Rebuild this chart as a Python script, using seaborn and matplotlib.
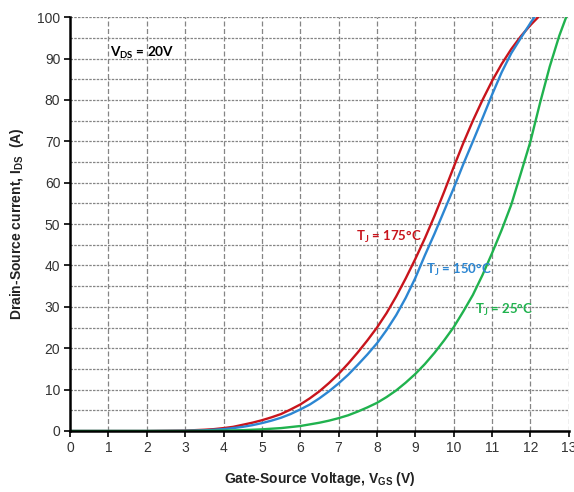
import matplotlib
matplotlib.use("Agg")
import matplotlib.pyplot as plt
from matplotlib.ticker import MultipleLocator
import pandas as pd
import seaborn as sns

# Transfer characteristics, V_DS = 20 V
vgs_175 = [0, 1, 2, 3, 3.5, 3.75, 4.0, 4.25, 4.5, 4.75, 5.0, 5.25, 5.5, 5.75, 6.0,
           6.25, 6.5, 6.75, 7.0, 7.25, 7.5, 7.75, 8.0, 8.25, 8.5, 8.75, 9.0, 9.25,
           9.5, 9.75, 10.0, 10.25, 10.5, 10.75, 11.0, 11.25, 11.5, 11.75, 12.0, 12.2]
ids_175 = [0, 0, 0, 0.1, 0.3, 0.45, 0.7, 1.0, 1.5, 2.0, 2.6, 3.3, 4.1, 5.2, 6.4,
           7.9, 9.6, 11.6, 13.8, 16.3, 19.0, 21.9, 25.0, 28.5, 32.5, 36.9, 41.6, 46.6,
           52.0, 57.8, 63.8, 69.6, 75.0, 80.0, 84.6, 88.7, 92.3, 95.4, 98.1, 100]

vgs_150 = [0, 1, 2, 3, 3.5, 4.0, 4.25, 4.5, 4.75, 5.0, 5.25, 5.5, 5.75, 6.0, 6.25,
           6.5, 6.75, 7.0, 7.25, 7.5, 7.75, 8.0, 8.25, 8.5, 8.75, 9.0, 9.25, 9.5,
           9.75, 10.0, 10.25, 10.5, 10.75, 11.0, 11.25, 11.5, 11.75, 12.0, 12.1]
ids_150 = [0, 0, 0, 0.05, 0.15, 0.45, 0.7, 1.0, 1.4, 1.9, 2.5, 3.2, 4.1, 5.2, 6.4,
           7.9, 9.6, 11.5, 13.6, 16.0, 18.5, 21.2, 24.4, 28.0, 32.2, 37.0, 42.5, 47.7,
           53.2, 58.7, 64.5, 70.0, 75.6, 81.3, 86.7, 91.3, 95.0, 98.6, 100]

vgs_25 = [0, 1, 2, 3, 3.5, 4.0, 4.5, 5.0, 5.5, 6.0, 6.5, 6.75, 7.0, 7.25, 7.5,
          7.75, 8.0, 8.25, 8.5, 8.75, 9.0, 9.25, 9.5, 9.75, 10.0, 10.25, 10.5, 10.75,
          11.0, 11.25, 11.5, 11.75, 12.0, 12.25, 12.5, 12.75, 12.93]
ids_25 = [0, 0, 0, 0, 0.03, 0.1, 0.2, 0.4, 0.7, 1.2, 2.0, 2.5, 3.1, 3.8, 4.7,
          5.7, 6.8, 8.2, 9.8, 11.7, 13.8, 16.2, 18.9, 21.9, 25.1, 28.9, 32.9, 37.7,
          43.0, 48.6, 54.7, 62.3, 70.0, 79.3, 88.0, 95.5, 100]

curve_names = ["T_J = 175°C", "T_J = 150°C", "T_J = 25°C"]
curve_colors = ["#C8141C", "#2C86D2", "#20B24E"]

df = pd.concat([
    pd.DataFrame({"Vgs": vgs_175, "Ids": ids_175, "curve": curve_names[0]}),
    pd.DataFrame({"Vgs": vgs_150, "Ids": ids_150, "curve": curve_names[1]}),
    pd.DataFrame({"Vgs": vgs_25, "Ids": ids_25, "curve": curve_names[2]}),
], ignore_index=True)

sns.set_theme(style="white")
plt.rcParams["font.family"] = ["Liberation Sans", "DejaVu Sans"]

fig = plt.figure(figsize=(5.74, 4.92), dpi=100)
ax = fig.add_axes([0.122, 0.124, 0.869, 0.841])

sns.lineplot(data=df, x="Vgs", y="Ids", hue="curve", hue_order=curve_names,
             palette=curve_colors, sort=False, estimator=None, legend=False,
             linewidth=1.7, ax=ax, zorder=3)

ax.set_xlim(0, 13)
ax.set_ylim(0, 100)
ax.xaxis.set_major_locator(MultipleLocator(1))
ax.yaxis.set_major_locator(MultipleLocator(10))

# grid: dashed verticals every volt, fine dotted horizontals every 5 A
ax.grid(False)
for v in range(1, 14):
    ax.axvline(v, color="#858585", lw=0.9, ls=(0, (4, 2)), zorder=1)
for a in range(5, 101, 5):
    ax.axhline(a, color="#858585", lw=0.9, ls=(0, (2, 1)), zorder=1)

for side in ("top", "right"):
    ax.spines[side].set_visible(False)
for side in ("left", "bottom"):
    ax.spines[side].set_color("black")
    ax.spines[side].set_linewidth(1.8)
    ax.spines[side].set_zorder(4)

ax.tick_params(axis="both", which="major", direction="out", length=4, width=1.2,
               color="black", labelsize=10, labelcolor="#333333", pad=3,
               bottom=True, left=True)

ax.set_xlabel("Gate-Source Voltage, V$_{\\mathregular{GS}}$ (V)", fontsize=10,
              fontweight="bold", color="#222222", labelpad=11)
ax.set_ylabel("Drain-Source current, I$_{\\mathregular{DS}}$  (A)", fontsize=10,
              fontweight="bold", color="#222222", labelpad=8)

note_font = ["Lato", "DejaVu Sans"]
ax.text(1.05, 91.5, "V$_{\\mathregular{DS}}$ = 20V", fontsize=9.8, color="black",
        family=note_font, fontweight="bold", va="center", ha="left", zorder=5)
label_pos = [(7.45, 46.8), (9.27, 38.9), (10.56, 29.2)]
for name, color, (lx, ly) in zip(curve_names, curve_colors, label_pos):
    txt = name.replace("T_J", "T$_{\\mathregular{J}}$")
    ax.text(lx, ly, txt, fontsize=9.5, color=color, family=note_font,
            fontweight="bold", va="center", ha="left", zorder=5)

fig.savefig("out.png", dpi=100)
